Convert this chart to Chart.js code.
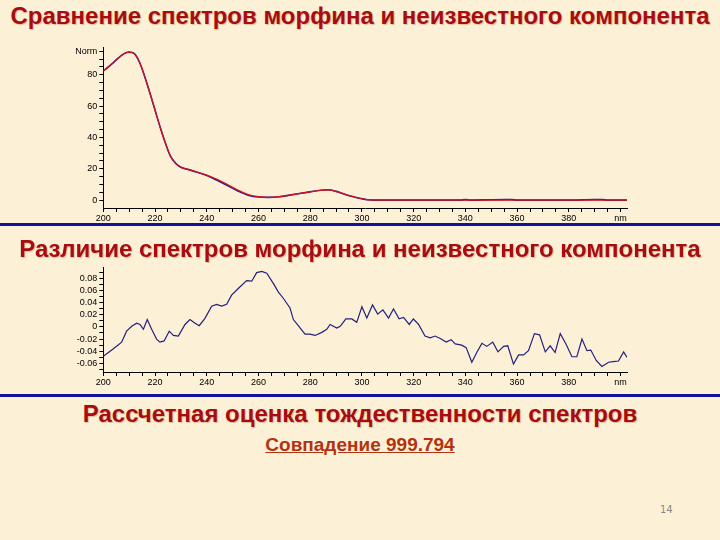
<!DOCTYPE html>
<html>
<head>
<meta charset="utf-8">
<script src="https://cdn.jsdelivr.net/npm/chart.js@4"></script>
<style>
body{margin:0;width:720px;height:540px;background:#fcf0d6;position:relative;overflow:hidden;font-family:"Liberation Sans",Arial,sans-serif}
.title{position:absolute;left:0;width:720px;text-align:center;font-weight:bold;color:#a80c10;white-space:nowrap;text-shadow:1px 1px 1px rgba(140,100,60,0.35)}
.rule{position:absolute;left:0;width:720px;height:3px;background:#12129c}
canvas{position:absolute}
#match{position:absolute;left:0;width:720px;text-align:center;top:434px;font-size:19px;font-weight:bold;color:#b3330f;text-decoration:underline}
#page{position:absolute;left:660px;top:504px;font-family:"DejaVu Sans",sans-serif;font-size:10px;color:#8a8a8a}
</style>
</head>
<body>
<div class="title" style="top:2px;font-size:24px">Сравнение спектров морфина и неизвестного компонента</div>
<canvas id="chartTop" width="600" height="184" style="left:40px;top:40px"></canvas>
<div class="rule" style="top:223px"></div>
<div class="title" style="top:235px;font-size:24px">Различие спектров морфина и неизвестного компонента</div>
<canvas id="chartDiff" width="600" height="128" style="left:40px;top:260px"></canvas>
<div class="rule" style="top:394px"></div>
<div class="title" style="top:400px;font-size:24px">Рассчетная оценка тождественности спектров</div>
<div id="match">Совпадение 999.794</div>
<div id="page">14</div>
<script>
// спектры (нм, Norm)
const waveTop = [200,202,204,206,208,210,212,214,216,218,220,222,224,226,228,230,233,236,240,244,248,252,256,260,264,268,272,276,280,284,287,290,293,296,299,302,305,320,338,340,342,350,356,358,360,380,390,393,395,402.5];
const morphine = [82.5,85,88,91,93.5,94.5,93.5,88,79,68.5,57.5,46.5,36.5,28,23.5,21,19.5,18,16,13.3,10,6.5,3.6,2.2,1.8,2.2,3.2,4.3,5.3,6.3,6.6,5.6,4,2.5,1.2,0.3,0,0,0,0,0,0,0,0,0,0,0,0,0,0];
const unknown  = [82.5,85,88,91,93.5,94.5,93.5,88,79,68.5,57.5,46.5,36.5,28,23.5,21,19.5,18,15.8,12.7,9.3,5.9,3.2,2.0,1.8,2.2,3.2,4.3,5.3,6.3,6.6,5.6,4,2.5,1.2,0.3,0,0,0,0.4,0,0.3,0.4,0.4,0,0,0.4,0.4,0,0];

// разность спектров
const waveDiff = [200,203.9,207.1,209,211,212.9,214.2,215.5,217,218.7,220.6,221.9,223.5,225.5,227.1,229,231.6,233.5,235.5,237.1,239.3,241.9,243.8,245.8,247.7,249.6,252.2,255.4,257.4,259.3,261.3,263.2,265.8,267.7,269.6,272.2,273.5,275.4,278,279.9,281.9,284.5,286.4,287.7,290.3,291.6,293.8,296.1,298,300,301.9,304.1,306.1,308.1,310.3,312.2,314.4,316.1,318.3,319.9,321.9,324.4,326.4,328.3,330.3,332.6,334.5,336.1,338.6,340.3,342.5,344.4,346.4,348.3,350.6,352.6,354.8,356.4,358.6,360.6,362.5,364.4,366.7,368.7,370.9,372.8,374.7,376.7,378.9,381.2,383.1,385.1,387,388.5,390.6,392.8,395.4,397.1,399.2,401.2,402.5];
const diff = [-0.048,-0.036,-0.025,-0.007,0.001,0.006,0.004,-0.004,0.012,-0.004,-0.020,-0.025,-0.023,-0.007,-0.014,-0.015,0.004,0.012,0.006,0.002,0.014,0.034,0.037,0.034,0.037,0.052,0.063,0.076,0.075,0.089,0.091,0.088,0.071,0.057,0.047,0.031,0.012,0.002,-0.012,-0.012,-0.014,-0.009,-0.004,0.004,-0.002,0.001,0.013,0.013,0.0075,0.033,0.0145,0.036,0.021,0.028,0.0145,0.0295,0.0134,0.0155,0.004,0.013,0.004,-0.015,-0.018,-0.015,-0.019,-0.025,-0.021,-0.028,-0.030,-0.034,-0.058,-0.042,-0.027,-0.032,-0.025,-0.041,-0.032,-0.031,-0.061,-0.046,-0.046,-0.039,-0.011,-0.013,-0.041,-0.031,-0.042,-0.011,-0.028,-0.049,-0.049,-0.020,-0.039,-0.038,-0.055,-0.065,-0.058,-0.057,-0.056,-0.041,-0.050];

const xLabels = [200,220,240,260,280,300,320,340,360,380,'nm'];
const topTicks = [0,20,40,60,80,'Norm'];
const diffTicks = [0.08,0.06,0.04,0.02,0,-0.02,-0.04,-0.06];

function pts(xs, ys) {
  return xs.map(function (x, i) { return {x: x, y: ys[i]}; });
}

const tickFont = {family: 'Arial, "Liberation Sans"', size: 9};

function xScale() {
  return {
    type: 'linear', min: 200, max: 402.5,
    afterBuildTicks: function (s) {
      const t = [];
      for (let v = 200; v <= 400; v += 5) t.push({value: v});
      s.ticks = t;
    },
    afterFit: function (s) { s.height = 16; },
    ticks: {
      autoSkip: false, maxRotation: 0, padding: 1, color: '#000', font: tickFont,
      callback: function (v) {
        if (v % 20 != 0) return '';
        const i = (v - 200) / 20;
        return String(xLabels[i]);
      }
    },
    grid: {drawOnChartArea: false, tickLength: 4, tickColor: '#000'},
    border: {color: '#000', width: 1}
  };
}

// первый набор рисуется поверх
new Chart(document.getElementById('chartTop'), {
  type: 'line',
  data: {
    datasets: [{
      label: 'морфин',
      data: pts(waveTop, morphine),
      borderColor: '#d2121a',
      borderWidth: 1.2,
      pointRadius: 0,
      cubicInterpolationMode: 'monotone'
    }, {
      label: 'неизвестный',
      data: pts(waveTop, unknown),
      borderColor: '#2a1c9a',
      borderWidth: 1.6,
      pointRadius: 0,
      cubicInterpolationMode: 'monotone'
    }]
  },
  options: {
    responsive: false, animation: false, devicePixelRatio: 1,
    layout: {padding: {top: 5, right: 13, left: 0, bottom: 0}},
    plugins: {legend: {display: false}, tooltip: {enabled: false}},
    scales: {
      x: xScale(),
      y: {
        min: -5, max: 97.5,
        afterBuildTicks: function (s) {
          const t = [];
          for (let v = 0; v <= 95; v += 5) t.push({value: v});
          s.ticks = t;
        },
        afterFit: function (s) { s.width = 63.3; },
        ticks: {
          autoSkip: false, padding: 2, color: '#000', font: tickFont,
          callback: function (v) {
            if (v == 95) return topTicks[5];
            if (v % 20 == 0) return String(topTicks[v / 20]);
            return '';
          }
        },
        grid: {drawOnChartArea: false, tickLength: 4, tickColor: '#000'},
        border: {color: '#000', width: 1}
      }
    }
  }
});

new Chart(document.getElementById('chartDiff'), {
  type: 'line',
  data: {
    datasets: [{
      label: 'разность',
      data: pts(waveDiff, diff),
      borderColor: '#24207e',
      borderWidth: 1.2,
      pointRadius: 0,
      tension: 0
    }]
  },
  options: {
    responsive: false, animation: false, devicePixelRatio: 1,
    layout: {padding: {top: 5, right: 13, left: 0, bottom: 0}},
    plugins: {legend: {display: false}, tooltip: {enabled: false}},
    scales: {
      x: xScale(),
      y: {
        min: -0.074, max: 0.0976,
        afterBuildTicks: function (s) {
          const t = [];
          for (let k = -7; k <= 9; k++) t.push({value: k / 100});
          s.ticks = t;
        },
        afterFit: function (s) { s.width = 63.3; },
        ticks: {
          autoSkip: false, padding: 2, color: '#000', font: tickFont,
          callback: function (v) {
            const k = Math.round(v * 100);
            if (k % 2 != 0) return '';
            const i = diffTicks.indexOf(k / 100);
            return i < 0 ? '' : String(diffTicks[i]);
          }
        },
        grid: {drawOnChartArea: false, tickLength: 4, tickColor: '#000'},
        border: {color: '#000', width: 1}
      }
    }
  }
});
</script>
</body>
</html>
